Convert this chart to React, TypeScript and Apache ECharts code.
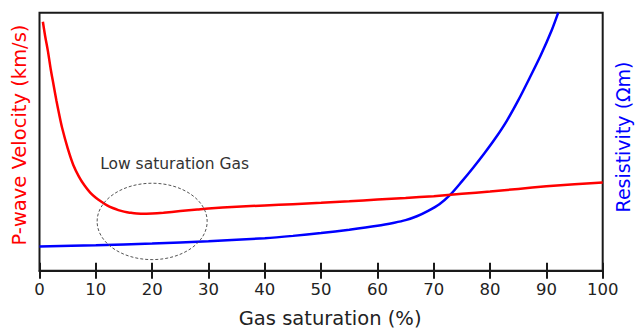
import React, { useEffect, useRef } from "react";
import * as echarts from "echarts";

// Gas saturation (%) values and curves (arbitrary 0-100 vertical units)
const xTicks = [0, 10, 20, 30, 40, 50, 60, 70, 80, 90, 100];

const velocitySat = [0.6, 1, 1.5, 2, 2.5, 3, 3.5, 4, 5, 6, 7, 8, 9, 10, 11, 12, 13, 14, 15, 16, 18, 20, 22, 25, 28, 30, 35, 40, 45, 50, 55, 60, 65, 70, 75, 80, 85, 90, 95, 100];
const velocityVal = [96.5, 91, 85, 78, 72, 66, 60.5, 55.5, 47.5, 41, 36.5, 33, 30.3, 28.3, 26.7, 25.3, 24.3, 23.5, 22.9, 22.5, 22.1, 22.2, 22.5, 23.1, 23.7, 24.1, 24.8, 25.3, 25.8, 26.3, 26.9, 27.6, 28.2, 28.9, 29.8, 30.7, 31.7, 32.7, 33.5, 34.2];

const resistSat = [0, 10, 20, 30, 40, 45, 50, 55, 60, 63, 65, 67, 69, 71, 73, 75, 77, 79, 81, 83, 85, 87, 89, 91, 92.1];
const resistVal = [9.4, 9.9, 10.5, 11.4, 12.6, 13.5, 14.6, 15.9, 17.4, 18.6, 19.6, 21.1, 23.2, 25.8, 29.6, 34.6, 39.9, 45.5, 51.5, 58.2, 66.0, 74.6, 83.5, 93.5, 100];

const annotationText = "Low saturation Gas";
const annotationTextPos = [24.0, 41.5];
const ellipseCenter = [20, 19.1];
const ellipseRadii = [9.77, 14.8];

const FONT = "DejaVu Sans";

export default function App() {
  const ref = useRef<HTMLDivElement>(null);
  useEffect(() => {
    if (!ref.current) return;
    const chart = echarts.init(ref.current, null, { renderer: "svg" });
    const grid = { left: 39.5, right: 38.3, top: 12.7, bottom: 57.3 };
    const baseX = {
      type: "value",
      min: 0,
      max: 100,
      interval: 10,
      position: "bottom",
      splitLine: { show: false },
    };
    chart.setOption({
      animation: false,
      backgroundColor: "#ffffff",
      grid: { ...grid, show: true, borderColor: "#1a1a1a", borderWidth: 2, backgroundColor: "transparent" },
      xAxis: [
        {
          ...baseX,
          axisLine: { show: true, lineStyle: { color: "#1a1a1a", width: 2 } },
          axisTick: { show: true, inside: false, length: 8, lineStyle: { color: "#1a1a1a", width: 2 } },
          axisLabel: {
            show: true,
            color: "#222",
            fontFamily: FONT,
            fontSize: 16.5,
            margin: 10,
            formatter: (v: number) => (xTicks.includes(v) ? String(v) : ""),
          },
        },
        {
          ...baseX,
          axisLine: { show: false },
          axisTick: { show: true, inside: true, length: 8, lineStyle: { color: "#1a1a1a", width: 2 } },
          axisLabel: { show: false },
        },
      ],
      yAxis: [
        { type: "value", min: 0, max: 100, show: true, axisLine: { show: false }, axisTick: { show: false }, axisLabel: { show: false }, splitLine: { show: false } },
        { type: "value", min: 0, max: 100, position: "right", axisLine: { show: false }, axisTick: { show: false }, axisLabel: { show: false }, splitLine: { show: false } },
      ],
      series: [
        {
          type: "line",
          name: "P-wave Velocity",
          xAxisIndex: 0,
          yAxisIndex: 0,
          data: velocitySat.map((s, i) => [s, velocityVal[i]]),
          smooth: 0.3,
          showSymbol: false,
          lineStyle: { color: "#ff0000", width: 2.5 },
          z: 3,
        },
        {
          type: "line",
          name: "Resistivity",
          xAxisIndex: 0,
          yAxisIndex: 1,
          data: resistSat.map((s, i) => [s, resistVal[i]]),
          smooth: 0.3,
          showSymbol: false,
          lineStyle: { color: "#0000ff", width: 2.5 },
          z: 2,
        },
      ],
    });

    const c = chart.convertToPixel({ xAxisIndex: 0, yAxisIndex: 0 }, ellipseCenter) as number[];
    const e = chart.convertToPixel({ xAxisIndex: 0, yAxisIndex: 0 }, [ellipseCenter[0] + ellipseRadii[0], ellipseCenter[1] + ellipseRadii[1]]) as number[];
    const t = chart.convertToPixel({ xAxisIndex: 0, yAxisIndex: 0 }, annotationTextPos) as number[];
    const plotCx = (grid.left + (641 - grid.right)) / 2;

    chart.setOption({
      graphic: [
        {
          type: "ellipse",
          shape: { cx: c[0], cy: c[1], rx: Math.abs(e[0] - c[0]), ry: Math.abs(c[1] - e[1]) },
          style: { fill: "none", stroke: "#555", lineWidth: 1, lineDash: [3, 2] },
          z: 10,
        },
        {
          type: "text",
          x: t[0],
          y: t[1],
          style: { text: annotationText, fill: "#333", font: `15.5px '${FONT}'`, align: "center", verticalAlign: "middle" },
          z: 10,
        },
        {
          type: "text",
          x: plotCx + 9,
          y: 318,
          style: { text: "Gas saturation (%)", fill: "#222", font: `19.5px '${FONT}'`, align: "center", verticalAlign: "middle" },
        },
        {
          type: "text",
          x: 19,
          y: 135,
          rotation: Math.PI / 2,
          style: { text: "P-wave Velocity (km/s)", fill: "#ff0000", font: `19.5px '${FONT}'`, align: "center", verticalAlign: "middle" },
        },
        {
          type: "text",
          x: 623,
          y: 137,
          rotation: Math.PI / 2,
          style: { text: "Resistivity (\u03A9m)", fill: "#0000ff", font: `19px '${FONT}'`, align: "center", verticalAlign: "middle" },
        },
      ],
    });
    return () => chart.dispose();
  }, []);
  return <div ref={ref} style={{ position: "fixed", left: 0, top: 0, width: 641, height: 328 }} />;
}
